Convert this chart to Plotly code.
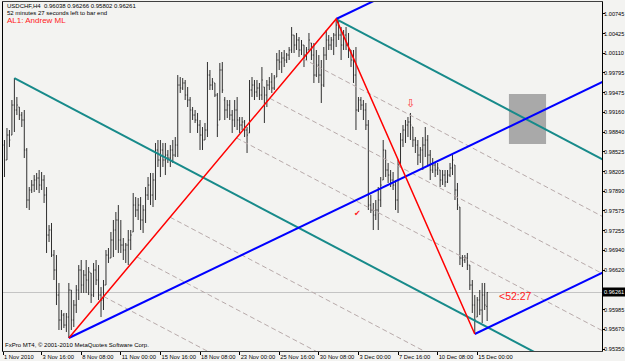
import plotly.graph_objects as go

# ---------------- data (USDCHF, H4) ----------------
bar_open = [0.98233, 0.98635, 0.98394, 0.98796, 0.98796, 0.99279, 0.99199, 0.99247, 0.99118, 0.99038,
            0.98555, 0.97750, 0.97911, 0.97991, 0.98072, 0.98104, 0.97991, 0.98072, 0.97830, 0.97186,
            0.97267, 0.96864, 0.96623, 0.96220, 0.95818, 0.95898, 0.95737, 0.95866, 0.96301, 0.95818,
            0.96059, 0.96301, 0.96623, 0.96381, 0.96542, 0.96462, 0.96575, 0.96220, 0.96623, 0.96462,
            0.96220, 0.96140, 0.96381, 0.96864, 0.96816, 0.97106, 0.97267, 0.97428, 0.97106, 0.97025,
            0.96945, 0.97025, 0.97106, 0.97235, 0.97669, 0.97589, 0.97669, 0.97428, 0.97589, 0.97830,
            0.97991, 0.97830, 0.98072, 0.98555, 0.98394, 0.98555, 0.98394, 0.98474, 0.98426, 0.98555,
            0.98474, 0.98635, 0.99601, 0.99553, 0.99634, 0.99440, 0.99360, 0.99199, 0.99118, 0.99038,
            0.98957, 0.98796, 0.98716, 0.98877, 0.99762, 0.99601, 0.99634, 0.99440, 0.99038, 0.99843,
            0.99360, 0.99199, 0.99279, 0.99118, 0.99038, 0.99199, 0.99038, 0.98957, 0.99006, 0.98877,
            0.98829, 0.99521, 0.99601, 0.99489, 0.99553, 0.99440, 0.99569, 0.99440, 0.99601, 0.99650,
            0.99553, 0.99730, 1.00004, 0.99972, 1.00036, 1.00004, 1.00084, 1.00165, 1.00406, 1.00245,
            1.00326, 1.00165, 1.00245, 1.00084, 1.00165, 1.00278, 1.00084, 0.99762, 0.99923, 0.99762,
            0.99601, 1.00084, 1.00326, 1.00245, 1.00326, 1.00406, 1.00567, 1.00406, 1.00245, 1.00406,
            1.00245, 1.00165, 1.00004, 0.99762, 0.99199, 0.99360, 0.99279, 0.99199, 0.98957, 0.97669,
            0.97589, 0.97508, 0.97589, 0.97750, 0.98072, 0.98555, 0.98233, 0.98152, 0.98072, 0.97991,
            0.97750, 0.98313, 0.98716, 0.98877, 0.98957, 0.99006, 0.98925, 0.98716, 0.98635, 0.98474,
            0.98555, 0.98635, 0.98716, 0.98474, 0.98233, 0.98313, 0.98233, 0.98233, 0.98072, 0.98152,
            0.98040, 0.98152, 0.98265, 0.98313, 0.97911, 0.97637, 0.96816, 0.96784, 0.96816, 0.96703,
            0.96381, 0.96059, 0.95866, 0.96140, 0.95979, 0.96220, 0.96038]
bar_high = [0.98764, 0.98716, 0.98909, 0.98877, 0.99360, 0.99714, 0.99408, 0.99247, 0.99167, 0.99199,
            0.98587, 0.97959, 0.98072, 0.98152, 0.98185, 0.98233, 0.98201, 0.98152, 0.97959, 0.97347,
            0.97380, 0.96945, 0.96864, 0.96414, 0.95979, 0.95931, 0.95931, 0.96414, 0.96301, 0.96140,
            0.96381, 0.96703, 0.96784, 0.96623, 0.96784, 0.96671, 0.96575, 0.96736, 0.96784, 0.96703,
            0.96349, 0.96462, 0.96945, 0.96977, 0.97235, 0.97428, 0.97557, 0.97669, 0.97428, 0.97138,
            0.97058, 0.97267, 0.97267, 0.97863, 0.97798, 0.97782, 0.97798, 0.97669, 0.97959, 0.98120,
            0.98185, 0.98185, 0.98668, 0.98716, 0.98716, 0.98668, 0.98668, 0.98555, 0.98635, 0.98716,
            0.98764, 0.99762, 0.99730, 0.99714, 0.99682, 0.99569, 0.99408, 0.99247, 0.99199, 0.99151,
            0.99038, 0.98925, 0.98990, 0.99972, 0.99843, 0.99714, 0.99634, 0.99473, 0.99956, 0.99972,
            0.99408, 0.99360, 0.99360, 0.99199, 0.99360, 0.99408, 0.99086, 0.99086, 0.99038, 0.98925,
            0.99682, 0.99730, 0.99682, 0.99682, 0.99634, 0.99891, 0.99569, 0.99682, 0.99730, 0.99795,
            0.99762, 1.00117, 1.00165, 1.00133, 1.00165, 1.00117, 1.00213, 1.00535, 1.00406, 1.00439,
            1.00374, 1.00326, 1.00245, 1.00213, 1.00439, 1.00278, 1.00278, 1.00165, 1.00084, 1.00004,
            1.00213, 1.00487, 1.00406, 1.00374, 1.00439, 1.00664, 1.00648, 1.00535, 1.00487, 1.00535,
            1.00439, 1.00165, 1.00165, 1.00213, 0.99408, 0.99408, 0.99360, 0.99312, 0.99038, 0.97830,
            0.97702, 0.97750, 0.97959, 0.98120, 0.98716, 0.98555, 0.98346, 0.98233, 0.98201, 0.98072,
            0.98394, 0.98829, 0.98957, 0.99038, 0.99086, 0.99151, 0.98925, 0.98764, 0.98716, 0.98603,
            0.98764, 0.98925, 0.98796, 0.98555, 0.98426, 0.98346, 0.98346, 0.98233, 0.98233, 0.98233,
            0.98233, 0.98346, 0.98474, 0.98313, 0.98024, 0.97637, 0.96864, 0.96864, 0.96897, 0.96703,
            0.96462, 0.96220, 0.96188, 0.96301, 0.96414, 0.96414, 0.96266]
bar_low = [0.98120, 0.98120, 0.98394, 0.98603, 0.98796, 0.98845, 0.99118, 0.99038, 0.98925, 0.98426,
           0.97621, 0.97589, 0.97863, 0.97879, 0.97911, 0.97863, 0.97911, 0.97702, 0.96897, 0.97074,
           0.96832, 0.96462, 0.96059, 0.95657, 0.95657, 0.95689, 0.95625, 0.95528, 0.95657, 0.95705,
           0.95931, 0.96140, 0.96253, 0.96253, 0.96253, 0.96220, 0.96092, 0.96188, 0.96381, 0.96140,
           0.95866, 0.95979, 0.96381, 0.96736, 0.96816, 0.96832, 0.96945, 0.96897, 0.96897, 0.96784,
           0.96736, 0.96703, 0.96945, 0.97235, 0.97476, 0.97428, 0.97267, 0.97219, 0.97380, 0.97750,
           0.97669, 0.97637, 0.97750, 0.98281, 0.98120, 0.98281, 0.98152, 0.98346, 0.98281, 0.98346,
           0.98442, 0.98442, 0.99473, 0.99521, 0.99360, 0.99247, 0.98829, 0.99038, 0.98990, 0.98829,
           0.98555, 0.98555, 0.98716, 0.98764, 0.99521, 0.99521, 0.99408, 0.98764, 0.99038, 0.99473,
           0.99038, 0.99070, 0.99038, 0.98829, 0.98925, 0.98877, 0.98829, 0.98877, 0.98764, 0.98507,
           0.98829, 0.99408, 0.99360, 0.99408, 0.99360, 0.99360, 0.98990, 0.99247, 0.99521, 0.99473,
           0.99521, 0.99730, 0.99843, 0.99795, 0.99891, 0.99956, 1.00004, 1.00117, 1.00117, 1.00165,
           1.00052, 1.00084, 0.99891, 1.00004, 1.00165, 1.00004, 0.99634, 0.99730, 0.99634, 0.99312,
           0.99569, 1.00004, 1.00165, 1.00165, 1.00084, 1.00213, 1.00326, 1.00004, 1.00165, 1.00165,
           1.00036, 0.99891, 0.99634, 0.98877, 0.99167, 0.99199, 0.99038, 0.98877, 0.97589, 0.97541,
           0.97267, 0.97428, 0.97267, 0.97637, 0.98072, 0.98120, 0.98024, 0.97959, 0.97911, 0.97589,
           0.97541, 0.98313, 0.98603, 0.98668, 0.98764, 0.98716, 0.98603, 0.98507, 0.98313, 0.98346,
           0.98233, 0.98442, 0.98313, 0.98072, 0.98185, 0.98120, 0.98152, 0.97959, 0.97991, 0.97959,
           0.98024, 0.98120, 0.98152, 0.97750, 0.97589, 0.96703, 0.96671, 0.96736, 0.96623, 0.96301,
           0.95931, 0.95593, 0.95866, 0.95898, 0.95770, 0.95979, 0.95802]
bar_close = [0.98635, 0.98394, 0.98796, 0.98716, 0.99279, 0.99199, 0.99279, 0.99118, 0.99038, 0.98555,
             0.97750, 0.97911, 0.97991, 0.98072, 0.98104, 0.97991, 0.98072, 0.97830, 0.97186, 0.97267,
             0.96864, 0.96623, 0.96220, 0.95818, 0.95898, 0.95737, 0.95866, 0.96301, 0.95818, 0.96059,
             0.96301, 0.96623, 0.96381, 0.96542, 0.96462, 0.96591, 0.96220, 0.96623, 0.96462, 0.96220,
             0.96140, 0.96381, 0.96864, 0.96816, 0.97106, 0.97267, 0.97428, 0.97106, 0.97025, 0.96945,
             0.97025, 0.97106, 0.97186, 0.97669, 0.97589, 0.97669, 0.97428, 0.97589, 0.97830, 0.97991,
             0.97830, 0.98072, 0.98555, 0.98394, 0.98555, 0.98394, 0.98474, 0.98426, 0.98555, 0.98474,
             0.98635, 0.99601, 0.99553, 0.99634, 0.99440, 0.99360, 0.99199, 0.99118, 0.99038, 0.98957,
             0.98796, 0.98716, 0.98877, 0.99762, 0.99601, 0.99650, 0.99440, 0.98957, 0.99843, 0.99521,
             0.99199, 0.99279, 0.99118, 0.99038, 0.99199, 0.99038, 0.98957, 0.99006, 0.98877, 0.98796,
             0.99521, 0.99601, 0.99489, 0.99553, 0.99440, 0.99682, 0.99440, 0.99601, 0.99650, 0.99553,
             0.99714, 1.00004, 0.99972, 1.00036, 1.00004, 1.00084, 1.00165, 1.00406, 1.00245, 1.00326,
             1.00165, 1.00245, 1.00084, 1.00165, 1.00326, 1.00084, 0.99762, 0.99923, 0.99762, 0.99601,
             1.00084, 1.00326, 1.00245, 1.00326, 1.00406, 1.00567, 1.00406, 1.00245, 1.00406, 1.00245,
             1.00165, 1.00004, 0.99762, 0.99199, 0.99360, 0.99279, 0.99199, 0.98957, 0.97669, 0.97589,
             0.97508, 0.97589, 0.97750, 0.97991, 0.98555, 0.98233, 0.98152, 0.98072, 0.97991, 0.97750,
             0.98313, 0.98716, 0.98877, 0.98957, 0.99006, 0.98957, 0.98716, 0.98635, 0.98474, 0.98555,
             0.98635, 0.98716, 0.98474, 0.98233, 0.98313, 0.98233, 0.98265, 0.98072, 0.98152, 0.98040,
             0.98152, 0.98265, 0.98394, 0.97911, 0.97669, 0.96816, 0.96784, 0.96816, 0.96703, 0.96381,
             0.96059, 0.95818, 0.96140, 0.95979, 0.96220, 0.96059, 0.96261]
bar_index = list(range(len(bar_close)))

time_tick_bars = [0.4, 16, 32, 48, 64, 80, 96, 112, 128, 144, 160, 176, 192]
time_tick_text = ["1 Nov 2010", "3 Nov 16:00", "8 Nov 08:00", "11 Nov 00:00", "15 Nov 16:00",
                  "18 Nov 08:00", "23 Nov 00:00", "25 Nov 16:00", "30 Nov 08:00", "3 Dec 00:00",
                  "7 Dec 16:00", "10 Dec 08:00", "15 Dec 00:00"]
price_ticks = [1.00745, 1.00425, 1.00110, 0.99795, 0.99475, 0.99160, 0.98840, 0.98525, 0.98205,
               0.97890, 0.97575, 0.97255, 0.96940, 0.96620, 0.95985, 0.95670, 0.95350]

# Andrews pitchfork pivots (bar, price)
pivot_bars = [27, 135, 191]
pivot_prices = [0.95528, 1.00664, 0.95593]
# channel trendline anchors (bar, price)
channel_bars = [5, 211]
channel_prices = [0.99714, 0.95388]
# grey zone rectangle
zone_bars = [204.8, 219.8]
zone_prices = [0.98652, 0.99457]

X_RANGE = [0.4, 242.4]
Y_RANGE = [0.95319, 1.00938]
END = 250

FONT = "Liberation Sans, Arial, sans-serif"
fig = go.Figure()

fig.add_shape(type="rect", x0=zone_bars[0], x1=zone_bars[1], y0=zone_prices[0], y1=zone_prices[1],
              fillcolor="#a9a9a9", line=dict(width=0), layer="below")
fig.add_shape(type="line", xref="paper", x0=0, x1=1, y0=bar_close[-1], y1=bar_close[-1],
              line=dict(color="#c4c4c4", width=1), layer="below")

fig.add_trace(go.Ohlc(x=bar_index, open=bar_open, high=bar_high, low=bar_low, close=bar_close,
                      increasing=dict(line=dict(color="#303030", width=1)),
                      decreasing=dict(line=dict(color="#303030", width=1)),
                      tickwidth=0.35, hoverinfo="skip", showlegend=False))

def lin(b0, p0, slope, b):
    return p0 + slope * (b - b0)

ch_slope = (channel_prices[1] - channel_prices[0]) / (channel_bars[1] - channel_bars[0])
t1 = lambda b: lin(channel_bars[0], channel_prices[0], ch_slope, b)
t2 = lambda b: lin(pivot_bars[1], pivot_prices[1], ch_slope, b)
quarter = (t2(0) - t1(0)) / 4.0
m1 = (pivot_prices[1] - pivot_prices[0]) / (pivot_bars[1] - pivot_bars[0])

for k in [-3, -2, -1, 1, 2, 3]:
    b_start = (channel_prices[0] - channel_bars[0] * ch_slope + k * quarter
               - pivot_prices[0] + m1 * pivot_bars[0]) / (m1 - ch_slope)
    fig.add_trace(go.Scatter(x=[b_start, END], y=[t1(b_start) + k * quarter, t1(END) + k * quarter],
                             mode="lines", line=dict(color="#b8aaaa", width=1, dash="5px,3px"),
                             hoverinfo="skip", showlegend=False))

teal = "#178a8a"
fig.add_trace(go.Scatter(x=[channel_bars[0], END], y=[t1(channel_bars[0]), t1(END)], mode="lines",
                         line=dict(color=teal, width=2), hoverinfo="skip", showlegend=False))
fig.add_trace(go.Scatter(x=[pivot_bars[1], END], y=[t2(pivot_bars[1]), t2(END)], mode="lines",
                         line=dict(color=teal, width=2), hoverinfo="skip", showlegend=False))

mid_b = (pivot_bars[1] + pivot_bars[2]) / 2.0
mid_p = (pivot_prices[1] + pivot_prices[2]) / 2.0
med_slope = (mid_p - pivot_prices[0]) / (mid_b - pivot_bars[0])
for b0, p0 in zip(pivot_bars, pivot_prices):
    fig.add_trace(go.Scatter(x=[b0, END], y=[p0, lin(b0, p0, med_slope, END)], mode="lines",
                             line=dict(color="#0000ff", width=2), hoverinfo="skip", showlegend=False))
fig.add_trace(go.Scatter(x=pivot_bars, y=pivot_prices, mode="lines",
                         line=dict(color="#ff0000", width=1.5), hoverinfo="skip", showlegend=False))

ann = []
ann.append(dict(xref="paper", x=1, y=bar_close[-1], xanchor="left", yanchor="middle",
                text=f"{bar_close[-1]:.5f}", showarrow=False, bgcolor="#000000",
                font=dict(color="#ffffff", size=5.6, family=FONT), borderpad=1, xshift=0))
ann.append(dict(x=200, y=0.9621, xanchor="left", yanchor="middle", text="&lt;52:27", showarrow=False,
                font=dict(color="#ff2020", size=10.5, family=FONT)))
ann.append(dict(x=165, y=0.99305, xanchor="center", yanchor="middle", text="⇩", showarrow=False,
                font=dict(color="#ff3030", size=11, family="DejaVu Sans")))
ann.append(dict(x=143.8, y=0.9754, xanchor="center", yanchor="middle", text="✔", showarrow=False,
                font=dict(color="#ff2020", size=8, family="DejaVu Sans")))
ann.append(dict(xref="paper", yref="paper", x=0.004, y=0.9885, xanchor="left", yanchor="middle",
                text="USDCHF,H4  0.96038 0.96266 0.95802 0.96261", showarrow=False,
                font=dict(color="#000000", size=6.0, family=FONT)))
ann.append(dict(xref="paper", yref="paper", x=0.004, y=0.9675, xanchor="left", yanchor="middle",
                text="52 minutes 27 seconds left to bar end", showarrow=False,
                font=dict(color="#000000", size=6.0, family=FONT)))
ann.append(dict(xref="paper", yref="paper", x=0.004, y=0.9465, xanchor="left", yanchor="middle",
                text="AL1: Andrew ML", showarrow=False,
                font=dict(color="#ff2020", size=8, family=FONT)))
ann.append(dict(xref="paper", yref="paper", x=0.0, y=0.017, xanchor="left", yanchor="middle",
                text="FxPro MT4, © 2001-2010 MetaQuotes Software Corp.", showarrow=False,
                font=dict(color="#000000", size=6.0, family=FONT)))

bg = "#f3f3f1"
fig.update_layout(
    width=625, height=361, margin=dict(l=3, r=23, t=2, b=10, autoexpand=False),
    paper_bgcolor=bg, plot_bgcolor=bg, showlegend=False, annotations=ann,
    font=dict(family=FONT, size=6.0, color="#000000"),
    xaxis=dict(range=X_RANGE, tickvals=time_tick_bars, ticktext=time_tick_text, tickangle=0,
               automargin=False,
               ticks="outside", ticklen=3, tickcolor="#000000", tickfont=dict(size=5.8, family=FONT),
               ticklabelposition="outside right", showgrid=False, zeroline=False,
               showline=True, mirror=True, linecolor="#404040", linewidth=1,
               rangeslider=dict(visible=False), fixedrange=True),
    yaxis=dict(range=Y_RANGE, side="right", tickvals=price_ticks, automargin=False,
               ticktext=[f"{v:.5f}" for v in price_ticks], ticks="outside", ticklen=2,
               ticklabelstandoff=-2,
               tickcolor="#000000", tickfont=dict(size=5.6, family=FONT), showgrid=False,
               zeroline=False, showline=True, mirror=True, linecolor="#000000", linewidth=1,
               fixedrange=True),
)

fig.write_html("out.html")
